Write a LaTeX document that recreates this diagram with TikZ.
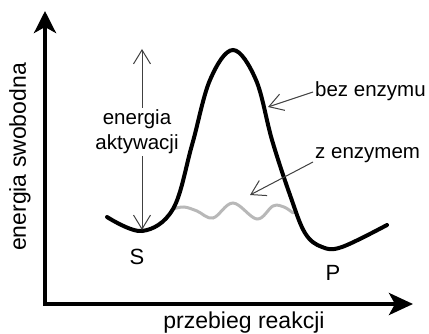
\documentclass[tikz,border=0pt]{standalone}
\usepackage{fontspec}
\setmainfont{Liberation Sans}
\usetikzlibrary{arrows.meta}

\begin{document}
\begin{tikzpicture}[x=1pt, y=-1pt,
    every node/.style={font=\fontsize{20.5}{25}\selectfont, inner sep=2pt},
    axislabel/.style={font=\fontsize{23}{27}\selectfont},
    axis/.style={line width=4pt, line join=miter,
        {Stealth[length=22pt,width=22pt,inset=6pt]}-{Stealth[length=24pt,width=22pt,inset=6pt]}},
    curve/.style={line width=4pt, line cap=round},
    enzcurve/.style={line width=3pt, black!28, line cap=round},
    pointer/.style={line width=1pt, black!75, -{Straight Barb[length=14pt,width=17pt]}}]
    \useasboundingbox (0,0) rectangle (429,334);
    % axes
    \coordinate (ytip) at (45,11);
    \coordinate (origin) at (45,304);
    \coordinate (xtip) at (413,304);
    \draw[axis] (ytip) -- (origin) -- (xtip);
    \node[axislabel, rotate=90] (ylabel) at (20,157) {energia swobodna};
    \node[axislabel] (xlabel) at (244,323) {przebieg reakcji};
    % z enzymem
    \draw[enzcurve] plot[smooth, tension=0.6] coordinates {(173,209) (184,207) (197,211) (213,218) (233,203) (257,219) (273,206) (284,207) (293,213)};
    % bez enzymu
    \draw[curve] plot[smooth, tension=0.6] coordinates {(107,217) (142,231) (173,209) (192,145) (210,80) (233,50) (256,80) (272,140) (290,195) (305,233) (322,247) (342,247) (387,225)};
    % energia aktywacji
    \node[align=center] (ea) at (137,132) {energia\\aktywacji};
    \coordinate (eatop) at (142,49);
    \coordinate (eabot) at (142,230);
    \draw[pointer] (ea.north -| eatop) -- (eatop);
    \draw[pointer] (ea.south -| eatop) -- (eabot);
    % opisy krzywych
    \node[anchor=west] (bez) at (313,91) {bez enzymu};
    \node[anchor=west] (zenz) at (313,155) {z enzymem};
    \coordinate (beztip) at (268,107);
    \coordinate (zenztip) at (250,195);
    \draw[pointer] ([yshift=-1pt]bez.west) -- (beztip);
    \draw[pointer] ([yshift=-7pt]zenz.west) -- (zenztip);
    \node[font=\fontsize{22}{26}\selectfont] (S) at (137,257) {S};
    \node[font=\fontsize{22}{26}\selectfont] (P) at (333,273) {P};
\end{tikzpicture}
\end{document}
